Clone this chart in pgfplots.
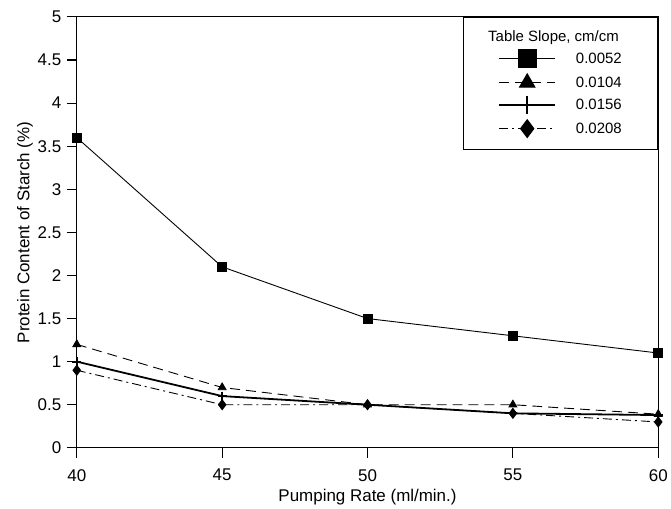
\documentclass[border=0pt]{standalone}
\usepackage{pgfplots}
\pgfplotsset{compat=1.18}
\usepackage{fontspec}
\setmainfont{Liberation Sans}
\begin{document}
\begin{tikzpicture}
\begin{axis}[
  scale only axis, width=583pt, height=432pt,
  xmin=40, xmax=60, ymin=0, ymax=5,
  xtick={40,45,50,55,60}, ytick={0,0.5,1,1.5,2,2.5,3,3.5,4,4.5,5},
  tick pos=left, tick align=outside,
  major tick length=10pt,
  axis line style={line width=1.1pt},
  every tick/.style={black, line width=1.1pt},
  /pgf/number format/assume math mode=true,
  tick label style={font=\fontsize{17}{20}\selectfont},
  label style={font=\fontsize{17}{20}\selectfont},
  xticklabel style={yshift=-8pt},
  yticklabel style={xshift=-2pt},
  xlabel={Pumping Rate (ml/min.)}, ylabel={Protein Content of Starch (\%)},
  xlabel style={yshift=-1pt}, ylabel style={yshift=-2pt},
  legend style={at={(1,1)}, anchor=north east, draw=black, line width=1.2pt,
    font=\fontsize{15}{17}\selectfont, inner xsep=35pt, inner ysep=12pt,
    row sep=6pt, column sep=19pt, nodes={inner sep=1pt}},
  legend cell align=left,
  legend image code/.code={\draw[mark repeat=2,mark phase=2,#1,mark size=9pt]
    plot coordinates {(0pt,0pt)(28pt,0pt)(56pt,0pt)};},
]
\addlegendimage{empty legend}
\addlegendentry{\makebox[0pt][l]{\hspace*{-88pt}Table Slope, cm/cm}\rule[-7pt]{0pt}{7pt}}
\addplot[black, line width=0.9pt, mark=square*, mark size=4.5pt, mark options={solid}]
  coordinates {(40,3.6) (45,2.1) (50,1.5) (55,1.3) (60,1.1)};
\addlegendentry{0.0052}
\addplot[black, line width=0.9pt, dash pattern=on 10pt off 6pt, mark=triangle*, mark size=4.5pt, mark options={solid}]
  coordinates {(40,1.2) (45,0.7) (50,0.5) (55,0.5) (60,0.39)};
\addlegendentry{0.0104}
\addplot[black, line width=1.8pt, mark=+, mark size=4.5pt, mark options={solid, line width=1.8pt}]
  coordinates {(40,1.0) (45,0.6) (50,0.5) (55,0.4) (60,0.38)};
\addlegendentry{0.0156}
\addplot[black, line width=0.9pt, dash pattern=on 9pt off 4pt on 2pt off 4pt, mark=diamond*, mark size=5pt, mark options={solid}]
  coordinates {(40,0.9) (45,0.5) (50,0.5) (55,0.4) (60,0.3)};
\addlegendentry{0.0208}
\end{axis}
\path (current axis.south west) ++(-77pt,-60pt) (current axis.north east) ++(11pt,17pt);
\end{tikzpicture}
\end{document}
